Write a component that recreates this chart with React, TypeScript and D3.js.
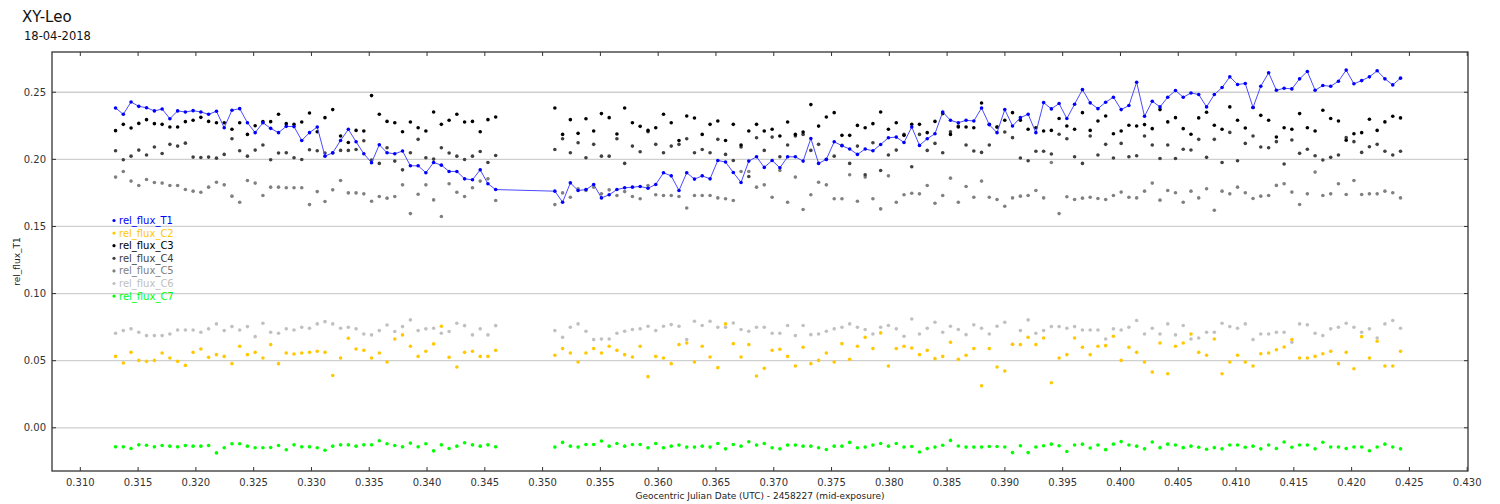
import React from "react";
import * as d3 from "d3";

// mid-exposure times (JD - 2458227), two runs with a gap
const times = [
  0.31305, 0.31372, 0.31439, 0.31506, 0.31573, 0.31641, 0.31708, 0.31775, 0.31842, 0.31909,
  0.31976, 0.32043, 0.3211, 0.32178, 0.32245, 0.32312, 0.32379, 0.32446, 0.32513, 0.3258,
  0.32647, 0.32715, 0.32782, 0.32849, 0.32916, 0.32983, 0.3305, 0.33117, 0.33184, 0.33252,
  0.33319, 0.33386, 0.33453, 0.3352, 0.33587, 0.33654, 0.33721, 0.33788, 0.33856, 0.33923,
  0.3399, 0.34057, 0.34124, 0.34191, 0.34258, 0.34325, 0.34393, 0.3446, 0.34527, 0.34594,
  0.35106, 0.35173, 0.3524, 0.35307, 0.35375, 0.35442, 0.35509, 0.35576, 0.35643, 0.3571,
  0.35777, 0.35844, 0.35912, 0.35979, 0.36046, 0.36113, 0.3618, 0.36247, 0.36314, 0.36381,
  0.36449, 0.36516, 0.36583, 0.3665, 0.36717, 0.36784, 0.36851, 0.36918, 0.36986, 0.37053,
  0.3712, 0.37187, 0.37254, 0.37321, 0.37388, 0.37455, 0.37523, 0.3759, 0.37657, 0.37724,
  0.37791, 0.37858, 0.37925, 0.37992, 0.3806, 0.38127, 0.38194, 0.38261, 0.38328, 0.38395,
  0.38462, 0.38529, 0.38597, 0.38664, 0.38731, 0.38798, 0.38865, 0.38932, 0.38999, 0.39066,
  0.39134, 0.39201, 0.39268, 0.39335, 0.39402, 0.39469, 0.39536, 0.39603, 0.39671, 0.39738,
  0.39805, 0.39872, 0.39939, 0.40006, 0.40073, 0.4014, 0.40208, 0.40275, 0.40342, 0.40409,
  0.40476, 0.40543, 0.4061, 0.40677, 0.40745, 0.40812, 0.40879, 0.40946, 0.41013, 0.4108,
  0.41147, 0.41214, 0.41282, 0.41349, 0.41416, 0.41483, 0.4155, 0.41617, 0.41684, 0.41751,
  0.41819, 0.41886, 0.41953, 0.4202, 0.42087, 0.42154, 0.42221, 0.42288, 0.42356, 0.42423,
];

const relFluxT1 = [
  0.2383, 0.2336, 0.2428, 0.2395, 0.2385, 0.2361, 0.2375, 0.2303, 0.2361, 0.2353,
  0.2363, 0.2353, 0.2336, 0.2358, 0.2236, 0.2366, 0.2378, 0.2273, 0.2199, 0.2273,
  0.2231, 0.2199, 0.2246, 0.2244, 0.2141, 0.2199, 0.2241, 0.2024, 0.2049, 0.2141,
  0.2224, 0.2131, 0.2042, 0.1975, 0.2109, 0.2049, 0.2042, 0.2062, 0.1952, 0.1952,
  0.19, 0.1977, 0.1957, 0.191, 0.191, 0.1855, 0.1848, 0.1922, 0.1818, 0.1775,
  0.1763, 0.1681, 0.1825, 0.1768, 0.1775, 0.1813, 0.1713, 0.1736, 0.1775, 0.1788,
  0.1793, 0.1798, 0.1785, 0.1813, 0.19, 0.1877, 0.1768, 0.19, 0.1853, 0.1877,
  0.1855, 0.1992, 0.198, 0.1902, 0.1828, 0.1987, 0.2019, 0.194, 0.1992, 0.1937,
  0.2019, 0.2019, 0.1987, 0.2156, 0.197, 0.2, 0.2131, 0.2102, 0.2077, 0.2037,
  0.2077, 0.2064, 0.2111, 0.2161, 0.2166, 0.2126, 0.2241, 0.2104, 0.2154, 0.2191,
  0.2353, 0.2291, 0.2273, 0.2291, 0.2286, 0.2383, 0.2258, 0.2199, 0.2371, 0.2249,
  0.2311, 0.2336, 0.2199, 0.2423, 0.2376, 0.2416, 0.2304, 0.2411, 0.252, 0.2421,
  0.2378, 0.2426, 0.2463, 0.2371, 0.2401, 0.2575, 0.2321, 0.2433, 0.2391, 0.2463,
  0.2513, 0.2463, 0.2495, 0.2483, 0.2391, 0.2483, 0.2535, 0.2615, 0.2558, 0.2565,
  0.2386, 0.2545, 0.2645, 0.2515, 0.253, 0.2525, 0.26, 0.2655, 0.2515, 0.255,
  0.2545, 0.2582, 0.2665, 0.2563, 0.2587, 0.2615, 0.266, 0.26, 0.2555, 0.2605,
];

const relFluxC2 = [
  0.0532, 0.0483, 0.0562, 0.0502, 0.0495, 0.0502, 0.0557, 0.052, 0.0495, 0.0465,
  0.0562, 0.0587, 0.0525, 0.0545, 0.0532, 0.0478, 0.0607, 0.0545, 0.0562, 0.052,
  0.062, 0.0478, 0.0557, 0.055, 0.0557, 0.0562, 0.057, 0.0562, 0.039, 0.052,
  0.0667, 0.0587, 0.0577, 0.052, 0.0557, 0.049, 0.0662, 0.0692, 0.0607, 0.0532,
  0.057, 0.0625, 0.0756, 0.0525, 0.0453, 0.0562, 0.057, 0.0532, 0.0532, 0.0577,
  0.054, 0.059, 0.0557, 0.049, 0.0557, 0.059, 0.0557, 0.0607, 0.0577, 0.0545,
  0.0527, 0.0607, 0.0381, 0.0532, 0.052, 0.0478, 0.062, 0.0632, 0.049, 0.0607,
  0.0527, 0.0448, 0.0774, 0.0627, 0.0527, 0.062, 0.0386, 0.0443, 0.0577, 0.0585,
  0.0532, 0.046, 0.06, 0.0478, 0.0502, 0.0557, 0.049, 0.0627, 0.051, 0.0607,
  0.0674, 0.059, 0.0707, 0.046, 0.059, 0.0607, 0.0595, 0.0545, 0.0577, 0.0515,
  0.0532, 0.0637, 0.051, 0.054, 0.059, 0.0313, 0.059, 0.0453, 0.0423, 0.0622,
  0.062, 0.0674, 0.062, 0.0669, 0.0336, 0.052, 0.0545, 0.0669, 0.06, 0.0545,
  0.0607, 0.0612, 0.0682, 0.0502, 0.06, 0.0562, 0.049, 0.0415, 0.0632, 0.0403,
  0.0607, 0.0632, 0.0699, 0.0562, 0.054, 0.0662, 0.0403, 0.049, 0.054, 0.049,
  0.046, 0.0552, 0.0557, 0.0582, 0.0602, 0.0657, 0.052, 0.052, 0.0532, 0.0552,
  0.057, 0.0478, 0.0562, 0.044, 0.0679, 0.052, 0.0645, 0.046, 0.046, 0.057,
];

const relFluxC3 = [
  0.2214, 0.2261, 0.2234, 0.2268, 0.2296, 0.2266, 0.2261, 0.2241, 0.2241, 0.2281,
  0.2291, 0.2313, 0.2283, 0.2273, 0.2273, 0.2224, 0.2273, 0.2186, 0.2251, 0.2281,
  0.2281, 0.2336, 0.2266, 0.2261, 0.2278, 0.2346, 0.2206, 0.2311, 0.2371, 0.2174,
  0.2126, 0.2216, 0.2211, 0.2475, 0.2336, 0.2283, 0.2273, 0.2206, 0.2278, 0.2236,
  0.2211, 0.2353, 0.2261, 0.2291, 0.2336, 0.2278, 0.2283, 0.2206, 0.2296, 0.2316,
  0.2383, 0.2186, 0.2296, 0.2194, 0.2303, 0.2211, 0.2341, 0.2311, 0.2189, 0.2383,
  0.2273, 0.2246, 0.2216, 0.2236, 0.2336, 0.2273, 0.2141, 0.2323, 0.2308, 0.2186,
  0.2261, 0.2286, 0.2141, 0.2261, 0.2107, 0.2211, 0.2261, 0.2211, 0.2224, 0.2174,
  0.2278, 0.2186, 0.2204, 0.2408, 0.2248, 0.2316, 0.2348, 0.2179, 0.2179, 0.2253,
  0.2236, 0.2266, 0.2353, 0.2224, 0.2273, 0.2179, 0.2261, 0.2261, 0.2199, 0.2283,
  0.2341, 0.2186, 0.2241, 0.2241, 0.2236, 0.242, 0.2261, 0.2241, 0.2291, 0.2348,
  0.2291, 0.2224, 0.2236, 0.2211, 0.2216, 0.2304, 0.2249, 0.2224, 0.2348, 0.2216,
  0.2286, 0.2323, 0.2191, 0.2211, 0.2254, 0.2249, 0.2259, 0.2229, 0.2371, 0.2279,
  0.2311, 0.2229, 0.2187, 0.2309, 0.2351, 0.2254, 0.2224, 0.2391, 0.2291, 0.2234,
  0.2386, 0.2328, 0.2291, 0.2167, 0.2236, 0.2224, 0.2341, 0.2236, 0.2211, 0.2366,
  0.2304, 0.2286, 0.2142, 0.2191, 0.2199, 0.2299, 0.2216, 0.2279, 0.2321, 0.2309,
];

const relFluxC4 = [
  0.2064, 0.1997, 0.2024, 0.2069, 0.2032, 0.2092, 0.2044, 0.2112, 0.2099, 0.2121,
  0.2017, 0.2014, 0.2017, 0.2009, 0.2037, 0.2154, 0.2064, 0.2024, 0.2069, 0.2107,
  0.1997, 0.2047, 0.2049, 0.2012, 0.1999, 0.2072, 0.2064, 0.2047, 0.2047, 0.2067,
  0.2067, 0.2074, 0.2139, 0.1994, 0.197, 0.2087, 0.1987, 0.1922, 0.2049, 0.2149,
  0.2012, 0.2002, 0.2087, 0.2047, 0.2024, 0.1999, 0.2024, 0.2059, 0.1977, 0.2029,
  0.2074, 0.2154, 0.2049, 0.2124, 0.2012, 0.2112, 0.2024, 0.2024, 0.2154, 0.197,
  0.2099, 0.2057, 0.2206, 0.2112, 0.2049, 0.2099, 0.2112, 0.2154, 0.2049, 0.2074,
  0.2049, 0.2149, 0.2037, 0.1992, 0.2092, 0.1872, 0.2161, 0.2067, 0.2166, 0.2019,
  0.2107, 0.2174, 0.2186, 0.2067, 0.2112, 0.1999, 0.2024, 0.2104, 0.197, 0.2099,
  0.1885, 0.2124, 0.1917, 0.2032, 0.2069, 0.2186, 0.1945, 0.2186, 0.2067, 0.2119,
  0.2049, 0.2206, 0.2248, 0.2107, 0.2062, 0.2052, 0.2107, 0.2241, 0.2204, 0.2162,
  0.201, 0.199, 0.206, 0.206, 0.204, 0.2187, 0.2154, 0.202, 0.197, 0.2174,
  0.2032, 0.2112, 0.201, 0.2119, 0.202, 0.2027, 0.2174, 0.2107, 0.2007, 0.2107,
  0.2007, 0.2075, 0.207, 0.2149, 0.2015, 0.2149, 0.1977, 0.2201, 0.199, 0.2119,
  0.2174, 0.2092, 0.2087, 0.2132, 0.1965, 0.2144, 0.2045, 0.2075, 0.2027, 0.1995,
  0.2015, 0.2032, 0.2162, 0.2132, 0.2052, 0.2094, 0.2112, 0.206, 0.2032, 0.206,
];

const relFluxC5 = [
  0.1868, 0.191, 0.1838, 0.1805, 0.185, 0.1828, 0.1823, 0.1805, 0.1805, 0.1775,
  0.1763, 0.1755, 0.1793, 0.183, 0.181, 0.1726, 0.1681, 0.1843, 0.1823, 0.1731,
  0.1793, 0.1793, 0.1788, 0.1788, 0.1788, 0.1663, 0.176, 0.1686, 0.1773, 0.1843,
  0.175, 0.175, 0.1743, 0.1688, 0.1723, 0.1711, 0.1723, 0.181, 0.1596, 0.174,
  0.181, 0.1698, 0.1574, 0.1818, 0.1755, 0.1723, 0.1788, 0.1838, 0.1855, 0.1693,
  0.1663, 0.175, 0.1718, 0.178, 0.1768, 0.1793, 0.1743, 0.1773, 0.1731, 0.176,
  0.1723, 0.1706, 0.1805, 0.1736, 0.1731, 0.1731, 0.1723, 0.1638, 0.1731, 0.1731,
  0.1731, 0.1713, 0.1706, 0.1693, 0.191, 0.191, 0.1793, 0.181, 0.1718, 0.1917,
  0.1681, 0.1868, 0.1626, 0.1736, 0.183, 0.181, 0.1706, 0.1706, 0.1885, 0.1688,
  0.1868, 0.1706, 0.1631, 0.1877, 0.1681, 0.1736, 0.1748, 0.1743, 0.1805, 0.1673,
  0.1731, 0.186, 0.1681, 0.1798, 0.1718, 0.1838, 0.1718, 0.1701, 0.1651, 0.1713,
  0.1726, 0.1731, 0.1768, 0.1713, 0.1977, 0.1596, 0.1721, 0.1701, 0.1711, 0.1718,
  0.1708, 0.1701, 0.1731, 0.1756, 0.1718, 0.1713, 0.1763, 0.1823, 0.1696, 0.1768,
  0.1751, 0.1681, 0.1763, 0.1713, 0.1781, 0.1621, 0.1763, 0.1743, 0.1793, 0.1751,
  0.1708, 0.1726, 0.1731, 0.1806, 0.1818, 0.1756, 0.1664, 0.1743, 0.1905, 0.1731,
  0.1743, 0.1818, 0.1738, 0.1843, 0.1738, 0.1743, 0.1743, 0.1763, 0.1751, 0.1713,
];

const relFluxC6 = [
  0.0704, 0.0724, 0.0737, 0.0712, 0.0687, 0.0687, 0.0687, 0.0699, 0.0729, 0.0729,
  0.0729, 0.0712, 0.0737, 0.0774, 0.0724, 0.0754, 0.0729, 0.0754, 0.0679, 0.0779,
  0.0712, 0.0704, 0.0737, 0.0729, 0.0749, 0.0742, 0.0774, 0.0791, 0.0774, 0.0742,
  0.0749, 0.0737, 0.0699, 0.0692, 0.0724, 0.0766, 0.0717, 0.0754, 0.0804, 0.0724,
  0.0737, 0.0742, 0.0704, 0.0717, 0.0779, 0.0761, 0.0692, 0.0737, 0.0692, 0.0761,
  0.0724, 0.0674, 0.0749, 0.0774, 0.0719, 0.0657, 0.0662, 0.0662, 0.0704, 0.0719,
  0.0732, 0.0737, 0.0757, 0.0724, 0.0757, 0.0769, 0.0757, 0.0657, 0.0794, 0.0762,
  0.0794, 0.0749, 0.0749, 0.0781, 0.0732, 0.0719, 0.0749, 0.0749, 0.0704, 0.0704,
  0.0762, 0.0687, 0.0762, 0.0694, 0.0699, 0.0719, 0.0737, 0.0749, 0.0774, 0.0749,
  0.0732, 0.0699, 0.0749, 0.0762, 0.0737, 0.0682, 0.0811, 0.0699, 0.0742, 0.0786,
  0.0712, 0.0757, 0.0732, 0.0694, 0.0767, 0.0742, 0.0699, 0.0757, 0.0786, 0.0622,
  0.0724, 0.0804, 0.0704, 0.0724, 0.0754, 0.0754, 0.0742, 0.0754, 0.0729, 0.0729,
  0.0729, 0.0662, 0.0737, 0.0729, 0.0749, 0.0799, 0.0699, 0.0742, 0.0699, 0.0774,
  0.0692, 0.0762, 0.0662, 0.0669, 0.0712, 0.0712, 0.0779, 0.0754, 0.0742, 0.0774,
  0.0657, 0.0699, 0.0699, 0.0712, 0.0712, 0.0637, 0.0774, 0.0767, 0.0704, 0.0687,
  0.0737, 0.0749, 0.0779, 0.0749, 0.0712, 0.0737, 0.0669, 0.0774, 0.0799, 0.0742,
];

const relFluxC7 = [
  -0.0142, -0.0142, -0.0154, -0.0127, -0.013, -0.0142, -0.0132, -0.0137, -0.0142, -0.0132,
  -0.0137, -0.0137, -0.0132, -0.0187, -0.0149, -0.0119, -0.0119, -0.0137, -0.0149, -0.0149,
  -0.0147, -0.0132, -0.0164, -0.0127, -0.0142, -0.0142, -0.0149, -0.0167, -0.0137, -0.0127,
  -0.0127, -0.0137, -0.0127, -0.0127, -0.0097, -0.0119, -0.0132, -0.0142, -0.0114, -0.0142,
  -0.0119, -0.0172, -0.0127, -0.0154, -0.0137, -0.0112, -0.0127, -0.0137, -0.0127, -0.0142,
  -0.0144, -0.0109, -0.0137, -0.0144, -0.0124, -0.0124, -0.0099, -0.0137, -0.0117, -0.0137,
  -0.0124, -0.0124, -0.0149, -0.0117, -0.0149, -0.0137, -0.0129, -0.0144, -0.0144, -0.0137,
  -0.0144, -0.0117, -0.0157, -0.0124, -0.0137, -0.0104, -0.0129, -0.0117, -0.0149, -0.0157,
  -0.0129, -0.0129, -0.0137, -0.0137, -0.0149, -0.0162, -0.0137, -0.0137, -0.0109, -0.0149,
  -0.0144, -0.0129, -0.0117, -0.0137, -0.0117, -0.0144, -0.014, -0.018, -0.0155, -0.0144,
  -0.013, -0.0094, -0.0136, -0.0144, -0.0144, -0.0144, -0.014, -0.014, -0.0143, -0.0185,
  -0.0134, -0.0185, -0.0143, -0.0134, -0.0122, -0.0134, -0.0177, -0.0128, -0.0122, -0.0151,
  -0.0128, -0.0163, -0.0122, -0.0103, -0.0128, -0.0137, -0.0157, -0.0106, -0.0148, -0.0122,
  -0.0128, -0.0148, -0.0137, -0.0145, -0.016, -0.0148, -0.0157, -0.0128, -0.0128, -0.0145,
  -0.0137, -0.0157, -0.0128, -0.0154, -0.0106, -0.0145, -0.0128, -0.0128, -0.0157, -0.0108,
  -0.0143, -0.0143, -0.0154, -0.0143, -0.0143, -0.0171, -0.0143, -0.0122, -0.0143, -0.0157,
];

const seriesNames = ["rel_flux_T1", "rel_flux_C2", "rel_flux_C3", "rel_flux_C4", "rel_flux_C5", "rel_flux_C6", "rel_flux_C7"];
const seriesValues = [relFluxT1, relFluxC2, relFluxC3, relFluxC4, relFluxC5, relFluxC6, relFluxC7];
const seriesColors = ["#0000ff", "#ffc800", "#000000", "#404040", "#808080", "#c0c0c0", "#00ff00"];

const xTickValues = [0.31, 0.315, 0.32, 0.325, 0.33, 0.335, 0.34, 0.345, 0.35, 0.355, 0.36, 0.365, 0.37, 0.375, 0.38, 0.385, 0.39, 0.395, 0.4, 0.405, 0.41, 0.415, 0.42, 0.425, 0.43];
const yTickValues = [0, 0.05, 0.1, 0.15, 0.2, 0.25];

const W = 1500, H = 504;
const left = 52, right = 1468, top = 52, bottom = 471;
const font = "'DejaVu Sans', sans-serif";

const App: React.FC = () => {
  const x = d3.scaleLinear().domain([0.30755, 0.43007]).range([left, right]);
  const y = d3.scaleLinear().domain([-0.0322, 0.28]).range([bottom, top]);

  const line = d3.line<number>()
    .x((_, i) => x(times[i]))
    .y(d => y(d));

  // draw order: comparison stars first, target last
  const order = [6, 5, 4, 3, 2, 1, 0];

  return (
    <svg width={W} height={H} style={{ position: "absolute", left: 0, top: 0, background: "#fff" }}>
      <rect x={0} y={0} width={W} height={H} fill="#fff" />

      <text x={22} y={22} fontFamily={font} fontSize={15} fill="#111">XY-Leo</text>
      <text x={24} y={40} fontFamily={font} fontSize={11.5} fill="#111">18-04-2018</text>

      {yTickValues.map(v => (
        <line key={"g" + v} x1={left} x2={right} y1={y(v)} y2={y(v)} stroke="#cfcfcf" strokeWidth={1.3} />
      ))}

      {order.map(s => (
        <g key={seriesNames[s]}>
          {s === 0 && (
            <path d={line(seriesValues[s]) || ""} fill="none" stroke="#4b4bff" strokeWidth={1} />
          )}
          {seriesValues[s].map((v, i) => (
            <circle key={i} cx={x(times[i])} cy={y(v)} r={1.8} fill={seriesColors[s]} />
          ))}
        </g>
      ))}

      {seriesNames.map((name, i) => (
        <g key={"lg" + name}>
          <circle cx={114} cy={220.5 + i * 12.6} r={1.6} fill={seriesColors[i]} />
          <text x={119} y={224 + i * 12.6} fontFamily={font} fontSize={10} fill={seriesColors[i]}>{name}</text>
        </g>
      ))}

      <rect x={left} y={top} width={right - left} height={bottom - top} fill="none" stroke="#333" strokeWidth={1.3} />

      {xTickValues.map(v => (
        <g key={"xt" + v}>
          <line x1={x(v)} x2={x(v)} y1={bottom} y2={bottom - 4} stroke="#333" />
          <line x1={x(v)} x2={x(v)} y1={top} y2={top + 4} stroke="#333" />
          <text x={x(v)} y={486} textAnchor="middle" fontFamily={font} fontSize={10} fill="#333">
            {d3.format(".3f")(v)}
          </text>
        </g>
      ))}

      {yTickValues.map(v => (
        <g key={"yt" + v}>
          <line x1={left} x2={left + 4} y1={y(v)} y2={y(v)} stroke="#333" />
          <line x1={right} x2={right - 4} y1={y(v)} y2={y(v)} stroke="#333" />
          <text x={46} y={y(v) + 3.5} textAnchor="end" fontFamily={font} fontSize={10} fill="#333">
            {d3.format(".2f")(v)}
          </text>
        </g>
      ))}

      <text x={(left + right) / 2} y={499} textAnchor="middle" fontFamily={font} fontSize={9} fill="#222">
        Geocentric Julian Date (UTC) - 2458227 (mid-exposure)
      </text>
      <text transform={`translate(20,${(top + bottom) / 2}) rotate(-90)`} textAnchor="middle" fontFamily={font} fontSize={9} fill="#222">
        rel_flux_T1
      </text>
    </svg>
  );
};

export default App;
